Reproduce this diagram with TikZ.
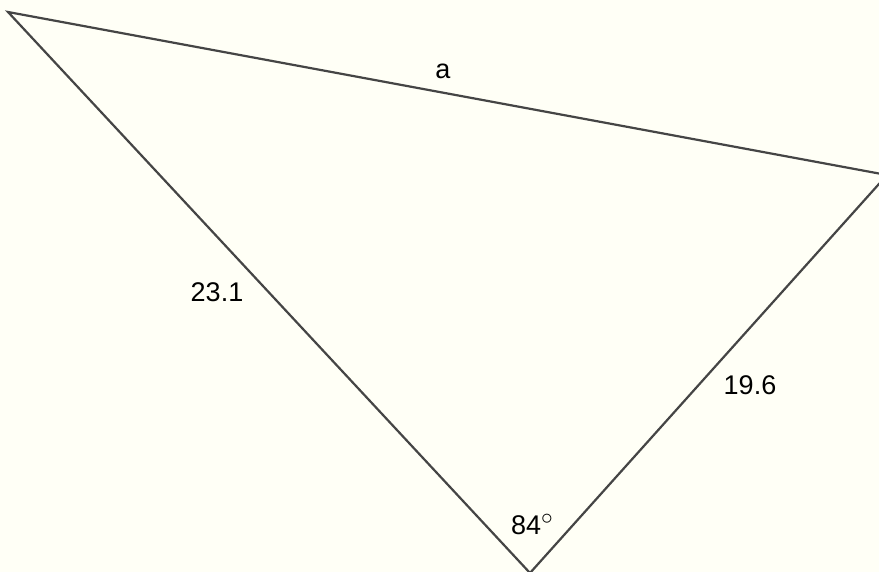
\documentclass[tikz,border=0pt]{standalone}
\usepackage{fontspec}
\setmainfont{Liberation Sans}
\definecolor{paper}{HTML}{FFFFF6}
\definecolor{edge}{HTML}{454545}
\begin{document}
\begin{tikzpicture}[x=1pt,y=-1pt,
    side/.style={draw=edge,line width=2.2pt},
    lbl/.style={anchor=base,font=\fontsize{27}{30}\selectfont,inner sep=0pt}]
        \useasboundingbox (0,0) rectangle (879,572);
        \clip (0,0) rectangle (879,572);
        \fill[paper] (0,0) rectangle (879,572);
        \coordinate (A) at (8,12);
        \coordinate (B) at (887,175);
        \coordinate (C) at (530,573);
        \draw[side] (A) -- (B) -- (C) -- cycle;
        \path (443,79) node [lbl] (la) {a};
        \path (217,302) node [lbl] (lb) {23.1};
        \path (750,395) node [lbl] (lc) {19.6};
        \path (532,534) node [lbl] (lg) {84\raisebox{10pt}{\scalebox{1.35}{$\scriptstyle\circ$}}};
    \end{tikzpicture}
\end{document}
